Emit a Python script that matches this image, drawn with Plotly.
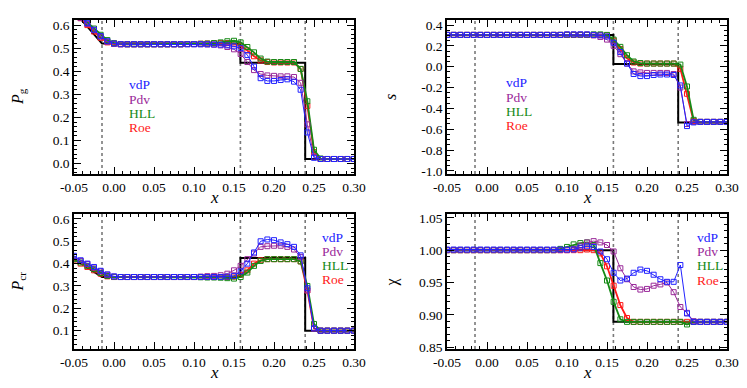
import plotly.graph_objects as go

# grid positions of the simulation cells
x_grid = [-0.05, -0.0417, -0.0333, -0.025, -0.0167, -0.0083, 0.0, 0.0083, 0.0167, 0.025,
          0.0333, 0.0417, 0.05, 0.0583, 0.0667, 0.075, 0.0833, 0.0917, 0.1, 0.1083,
          0.1167, 0.125, 0.1333, 0.1417, 0.15, 0.1583, 0.1667, 0.175, 0.1833, 0.1917,
          0.2, 0.2083, 0.2167, 0.225, 0.2333, 0.2417, 0.25, 0.2583, 0.2667, 0.275,
          0.2833, 0.2917, 0.3]

# P_g
vdp_pg = ([0.66, 0.635, 0.608, 0.58, 0.552, 0.53, 0.52] + [0.517] * 13 +
          [0.517, 0.516, 0.515, 0.512, 0.508, 0.50, 0.47, 0.42, 0.37, 0.358, 0.358, 0.362,
           0.365, 0.355, 0.32, 0.135, 0.025, 0.02] + [0.02] * 5)
pdv_pg = ([0.655, 0.63, 0.605, 0.578, 0.55, 0.528, 0.519] + [0.517] * 13 +
          [0.516, 0.515, 0.512, 0.505, 0.495, 0.475, 0.44, 0.405, 0.388, 0.382, 0.38, 0.378,
           0.378, 0.375, 0.35, 0.17, 0.03, 0.02] + [0.02] * 5)
hll_pg = ([0.66, 0.64, 0.612, 0.585, 0.558, 0.535, 0.522] +
          [0.518, 0.517, 0.517, 0.517, 0.517, 0.517, 0.517, 0.517, 0.517, 0.517, 0.518, 0.518, 0.519] +
          [0.52, 0.522, 0.525, 0.53, 0.532, 0.525, 0.505, 0.482, 0.455, 0.442, 0.44, 0.44,
           0.44, 0.44, 0.41, 0.27, 0.06, 0.022] + [0.02] * 5)
roe_pg = ([0.655, 0.63, 0.6, 0.572, 0.545, 0.525, 0.519] +
          [0.517, 0.517, 0.517, 0.517, 0.517, 0.517, 0.517, 0.517, 0.517, 0.517, 0.518, 0.518, 0.519] +
          [0.52, 0.521, 0.522, 0.522, 0.52, 0.51, 0.49, 0.465, 0.447, 0.44, 0.438, 0.438,
           0.438, 0.438, 0.41, 0.25, 0.05, 0.02] + [0.02] * 5)
exact_x_pg = [-0.05, -0.015, 0.158, 0.158, 0.239, 0.239, 0.30]
exact_pg = [0.66, 0.52, 0.52, 0.437, 0.437, 0.02, 0.02]

# s
vdp_s = ([0.305] * 18 + [0.31] * 4 +
         [0.305, 0.30, 0.29, 0.23, 0.14, 0.03, -0.07, -0.09, -0.09, -0.08, -0.075, -0.075,
          -0.08, -0.18, -0.57, -0.535] + [-0.53] * 5)
pdv_s = ([0.305] * 18 + [0.308] * 4 +
         [0.30, 0.285, 0.26, 0.20, 0.12, 0.03, -0.045, -0.055, -0.06, -0.06, -0.06, -0.06,
          -0.07, -0.2, -0.55, -0.53] + [-0.53] * 5)
hll_s = ([0.305] * 22 +
         [0.31, 0.31, 0.305, 0.26, 0.19, 0.11, 0.05, 0.035, 0.03, 0.03, 0.03, 0.03,
          0.03, 0.02, -0.19, -0.51] + [-0.53] * 5)
roe_s = ([0.305] * 22 +
         [0.305, 0.303, 0.30, 0.25, 0.17, 0.08, 0.04, 0.03, 0.03, 0.03, 0.03, 0.03,
          0.03, -0.02, -0.26, -0.52] + [-0.53] * 5)
exact_x_s = [-0.05, 0.158, 0.158, 0.239, 0.239, 0.30]
exact_s = [0.305, 0.305, 0.025, 0.025, -0.535, -0.535]

# P_cr
vdp_pcr = ([0.435, 0.415, 0.40, 0.385, 0.368, 0.352, 0.343] + [0.34] * 15 +
           [0.34, 0.342, 0.345, 0.365, 0.40, 0.45, 0.50, 0.508, 0.505, 0.495, 0.487, 0.475,
            0.437, 0.29, 0.11, 0.10] + [0.10] * 5)
pdv_pcr = ([0.43, 0.412, 0.398, 0.382, 0.365, 0.35, 0.342] + [0.34] * 12 + [0.342, 0.344, 0.345] +
           [0.348, 0.355, 0.37, 0.39, 0.42, 0.445, 0.475, 0.478, 0.48, 0.48, 0.475, 0.463,
            0.43, 0.28, 0.11, 0.10] + [0.10] * 5)
hll_pcr = ([0.42, 0.405, 0.39, 0.375, 0.358, 0.345, 0.34] + [0.34] * 12 + [0.339, 0.338, 0.338] +
           [0.337, 0.335, 0.333, 0.34, 0.36, 0.39, 0.412, 0.42, 0.42, 0.42, 0.42, 0.42,
            0.41, 0.30, 0.13, 0.10] + [0.10] * 5)
roe_pcr = ([0.418, 0.40, 0.385, 0.37, 0.355, 0.343, 0.34] + [0.34] * 15 +
           [0.34, 0.34, 0.342, 0.35, 0.37, 0.40, 0.415, 0.42, 0.42, 0.42, 0.42, 0.42,
            0.41, 0.28, 0.11, 0.10] + [0.10] * 5)
exact_x_pcr = [-0.05, -0.015, 0.158, 0.158, 0.239, 0.239, 0.30]
exact_pcr = [0.42, 0.34, 0.34, 0.425, 0.425, 0.10, 0.10]

# chi
vdp_chi = ([1.001] * 20 +
           [1.004, 1.006, 1.005, 0.998, 0.986, 0.965, 0.953, 0.956, 0.965, 0.970, 0.968, 0.962,
            0.955, 0.951, 0.951, 0.977, 0.902, 0.889] + [0.889] * 5)
pdv_chi = ([1.0] * 19 +
           [1.002, 1.007, 1.012, 1.014, 1.012, 1.008, 0.998, 0.972, 0.955, 0.943, 0.939, 0.94,
            0.945, 0.947, 0.95, 0.935, 0.912, 0.903, 0.89] + [0.889] * 5)
hll_chi = ([1.0] * 17 +
           [1.002, 1.005, 1.009, 1.011, 1.012, 1.008, 0.98, 0.953, 0.92, 0.893] + [0.889] * 8 +
           [0.889, 0.885, 0.889] + [0.889] * 5)
roe_chi = ([1.0] * 21 +
           [1.001, 1.0, 0.995, 0.975, 0.945, 0.915, 0.895] + [0.889] * 10 + [0.889] * 5)
exact_x_chi = [-0.05, 0.158, 0.158, 0.30]
exact_chi = [1.0, 1.0, 0.889, 0.889]

wave_x = [-0.015, 0.158, 0.239]

series_names = ['Roe', 'HLL', 'Pdv', 'vdP']
series_colors = {'vdP': '#2222ff', 'Pdv': '#9a2a9a', 'HLL': '#168a16', 'Roe': '#ff1a1a'}
series_widths = {'vdP': 1, 'Pdv': 1, 'HLL': 1.8, 'Roe': 1.8}
legend_order = ['vdP', 'Pdv', 'HLL', 'Roe']

x_tick_vals = [-0.05, 0.0, 0.05, 0.10, 0.15, 0.20, 0.25, 0.30]
x_tick_text = ['-0.05', '0.00', '0.05', '0.10', '0.15', '0.20', '0.25', '0.30']

FONT = 'Liberation Serif'
W, H = 747, 388

panels = [
    dict(ax='', data={'vdP': vdp_pg, 'Pdv': pdv_pg, 'HLL': hll_pg, 'Roe': roe_pg},
         ex=(exact_x_pg, exact_pg), yr=[-0.045, 0.622],
         yt=[0.0, 0.1, 0.2, 0.3, 0.4, 0.5, 0.6], ytt=['0.0', '0.1', '0.2', '0.3', '0.4', '0.5', '0.6'],
         ym=0.02, px=(74, 354), py=(20, 174), ylab='<i>P</i><sub>g</sub>', ylx=18,
         leg=(0.19, [0.578, 0.487, 0.394, 0.30])),
    dict(ax='2', data={'vdP': vdp_s, 'Pdv': pdv_s, 'HLL': hll_s, 'Roe': roe_s},
         ex=(exact_x_s, exact_s), yr=[-1.03, 0.448],
         yt=[-1.0, -0.8, -0.6, -0.4, -0.2, 0.0, 0.2, 0.4],
         ytt=['-1.0', '-0.8', '-0.6', '-0.4', '-0.2', '0.0', '0.2', '0.4'],
         ym=0.05, px=(447, 727), py=(20, 174), ylab='<i>s</i>', ylx=390,
         leg=(0.205, [0.593, 0.498, 0.405, 0.312])),
    dict(ax='3', data={'vdP': vdp_pcr, 'Pdv': pdv_pcr, 'HLL': hll_pcr, 'Roe': roe_pcr},
         ex=(exact_x_pcr, exact_pcr), yr=[0.018, 0.622],
         yt=[0.1, 0.2, 0.3, 0.4, 0.5, 0.6], ytt=['0.1', '0.2', '0.3', '0.4', '0.5', '0.6'],
         ym=0.02, px=(74, 354), py=(214, 349), ylab='<i>P</i><sub>cr</sub>', ylx=18,
         leg=(0.88, [0.827, 0.723, 0.62, 0.516])),
    dict(ax='4', data={'vdP': vdp_chi, 'Pdv': pdv_chi, 'HLL': hll_chi, 'Roe': roe_chi},
         ex=(exact_x_chi, exact_chi), yr=[0.847, 1.056],
         yt=[0.85, 0.90, 0.95, 1.00, 1.05], ytt=['0.85', '0.90', '0.95', '1.00', '1.05'],
         ym=0.01, px=(447, 727), py=(214, 349), ylab='χ', ylx=391,
         leg=(0.885, [0.827, 0.72, 0.615, 0.508])),
]

fig = go.Figure()
annotations = []
shapes = []
tick_font = dict(family=FONT, size=13.5, color='black')

for p in panels:
    xa = 'x' + p['ax']
    ya = 'y' + p['ax']
    # exact solution
    fig.add_trace(go.Scatter(x=p['ex'][0], y=p['ex'][1], mode='lines',
                             line=dict(color='black', width=2),
                             xaxis=xa, yaxis=ya, showlegend=False))
    for name in series_names:
        fig.add_trace(go.Scatter(
            x=x_grid, y=p['data'][name], mode='lines+markers',
            line=dict(color=series_colors[name], width=series_widths[name]),
            marker=dict(symbol='square-open', size=5, color=series_colors[name],
                        line=dict(width=1)),
            xaxis=xa, yaxis=ya, showlegend=False))

    for wx in wave_x:
        shapes.append(dict(type='line', xref=xa, yref=ya + ' domain', x0=wx, x1=wx, y0=0, y1=1,
                           line=dict(color='#7a7a7a', width=1.6, dash='dot'), layer='below'))

    xdom = [p['px'][0] / W, p['px'][1] / W]
    ydom = [(H - p['py'][1]) / H, (H - p['py'][0]) / H]
    axis_common = dict(ticks='inside', ticklen=7, tickwidth=1, tickcolor='black',
                       mirror='allticks', showline=True, linecolor='black', linewidth=1.5,
                       showgrid=False, zeroline=False, tickfont=tick_font, automargin=False)
    fig.update_layout(**{
        'xaxis' + p['ax']: dict(domain=xdom, range=[-0.05, 0.30], tickvals=x_tick_vals,
                                ticktext=x_tick_text, anchor=ya,
                                minor=dict(dtick=0.01, tick0=0, ticks='inside', ticklen=3.5,
                                           tickwidth=1, tickcolor='black'),
                                **axis_common),
        'yaxis' + p['ax']: dict(domain=ydom, range=p['yr'], tickvals=p['yt'], ticktext=p['ytt'],
                                anchor=xa,
                                minor=dict(dtick=p['ym'], tick0=0, ticks='inside', ticklen=3.5,
                                           tickwidth=1, tickcolor='black'),
                                **axis_common),
    })

    # axis titles
    annotations.append(dict(text='<i>x</i>', xref='paper', yref='paper',
                            x=(xdom[0] + xdom[1]) / 2, y=(H - (p['py'][1] + 23)) / H,
                            xanchor='center', yanchor='middle', showarrow=False,
                            font=dict(family=FONT, size=17, color='black')))
    annotations.append(dict(text=p['ylab'], xref='paper', yref='paper', textangle=-90,
                            x=p['ylx'] / W, y=(ydom[0] + ydom[1]) / 2,
                            xanchor='center', yanchor='middle', showarrow=False,
                            font=dict(family=FONT, size=16, color='black')))
    # series labels
    for name, yy in zip(legend_order, p['leg'][1]):
        annotations.append(dict(text=name, xref=xa + ' domain', yref=ya + ' domain',
                                x=p['leg'][0], y=yy, xanchor='left', yanchor='middle',
                                showarrow=False,
                                font=dict(family=FONT, size=13.5, color=series_colors[name])))

fig.update_layout(width=W, height=H, margin=dict(l=0, r=0, t=0, b=0, autoexpand=False),
                  plot_bgcolor='white', paper_bgcolor='white',
                  annotations=annotations, shapes=shapes, showlegend=False)

# the page's default body margin would shift the figure by 8px
fig.write_html("out.html", config={'displayModeBar': False},
               post_script="document.body.style.margin='0px';document.body.style.overflow='hidden';")
